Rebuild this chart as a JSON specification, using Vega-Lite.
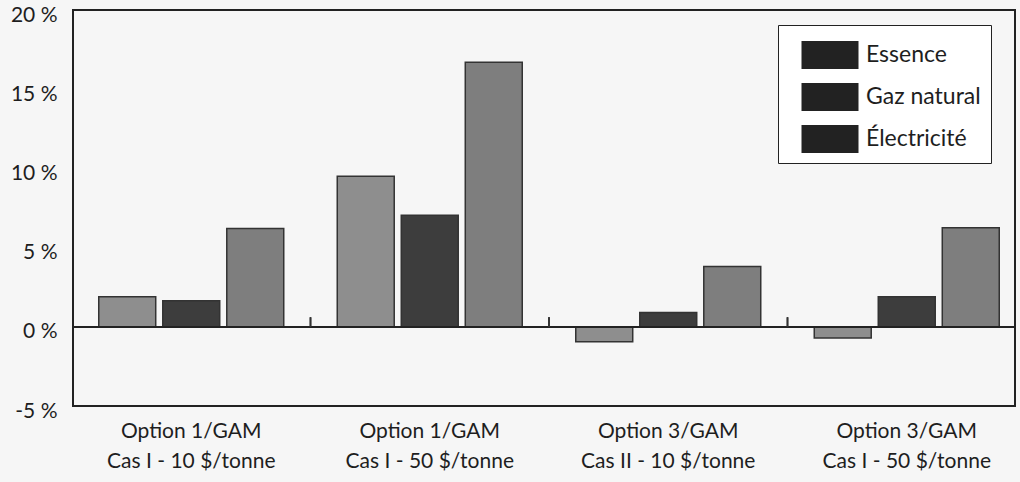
{
  "$schema": "https://vega.github.io/schema/vega-lite/v6.json",
  "width": 942,
  "height": 396,
  "autosize": {"type": "none"},
  "padding": {"left": 73, "top": 10, "right": 5, "bottom": 76},
  "background": "#f6f6f6",
  "config": {
    "font": "Lato",
    "view": {"stroke": "#222222", "strokeWidth": 2, "fill": "#f6f6f6"},
    "axis": {"labelFont": "Lato", "labelColor": "#1e1e1e", "labelFontSize": 21, "grid": false, "ticks": false, "domain": false, "title": null}
  },
  "data": {
    "values": [
      {"groupe": "Option 1/GAM|Cas I - 10 $/tonne", "energie": "Essence", "valeur": 1.9},
      {"groupe": "Option 1/GAM|Cas I - 10 $/tonne", "energie": "Gaz natural", "valeur": 1.65},
      {"groupe": "Option 1/GAM|Cas I - 10 $/tonne", "energie": "Électricité", "valeur": 6.2},
      {"groupe": "Option 1/GAM|Cas I - 50 $/tonne", "energie": "Essence", "valeur": 9.5},
      {"groupe": "Option 1/GAM|Cas I - 50 $/tonne", "energie": "Gaz natural", "valeur": 7.05},
      {"groupe": "Option 1/GAM|Cas I - 50 $/tonne", "energie": "Électricité", "valeur": 16.7},
      {"groupe": "Option 3/GAM|Cas II - 10 $/tonne", "energie": "Essence", "valeur": -0.95},
      {"groupe": "Option 3/GAM|Cas II - 10 $/tonne", "energie": "Gaz natural", "valeur": 0.9},
      {"groupe": "Option 3/GAM|Cas II - 10 $/tonne", "energie": "Électricité", "valeur": 3.8},
      {"groupe": "Option 3/GAM|Cas I - 50 $/tonne", "energie": "Essence", "valeur": -0.7},
      {"groupe": "Option 3/GAM|Cas I - 50 $/tonne", "energie": "Gaz natural", "valeur": 1.9},
      {"groupe": "Option 3/GAM|Cas I - 50 $/tonne", "energie": "Électricité", "valeur": 6.25}
    ]
  },
  "layer": [
    {
      "mark": {"type": "bar", "stroke": "#333333", "strokeWidth": 1.5},
      "encoding": {
        "x": {
          "field": "groupe",
          "type": "nominal",
          "sort": null,
          "scale": {"paddingInner": 0, "paddingOuter": 0, "range": [-1, 953]},
          "axis": {"labelAngle": 0, "labelPadding": 14, "labelLineHeight": 30, "labelBaseline": "top", "labelExpr": "split(datum.label, '|')"}
        },
        "xOffset": {
          "field": "energie",
          "type": "nominal",
          "sort": ["Essence", "Gaz natural", "Électricité"],
          "scale": {"paddingInner": 0.11, "paddingOuter": 0.418}
        },
        "y": {
          "field": "valeur",
          "type": "quantitative",
          "scale": {"domain": [-5, 20], "nice": false, "zero": false},
          "axis": {"values": [-5, 0, 5, 10, 15, 20], "labelPadding": 16, "labelOffset": 5, "labelExpr": "datum.value + ' %'"}
        },
        "fill": {
          "field": "energie",
          "type": "nominal",
          "sort": ["Essence", "Gaz natural", "Électricité"],
          "scale": {"range": ["#8e8e8e", "#3d3d3d", "#7e7e7e"]},
          "legend": null
        }
      }
    },
    {
      "mark": {"type": "bar", "strokeWidth": 0},
      "encoding": {
        "x": {"field": "groupe", "type": "nominal", "sort": null},
        "y": {"datum": 0},
        "y2": {"datum": 0},
        "color": {
          "field": "energie",
          "type": "nominal",
          "scale": {"domain": ["Essence", "Gaz natural", "Électricité"], "range": ["#222222", "#222222", "#222222"]},
          "legend": {
            "title": null,
            "orient": "none",
            "legendX": 705,
            "legendY": 15,
            "padding": 10,
            "fillColor": "#ffffff",
            "strokeColor": "#222222",
            "symbolType": "M-1.425,-0.7H1.425V0.7H-1.425Z",
            "symbolSize": 1600,
            "symbolOffset": 22,
            "symbolStrokeWidth": 0,
            "labelFont": "Lato",
            "labelFontSize": 23,
            "labelColor": "#1e1e1e",
            "labelOffset": 16,
            "rowPadding": 8
          }
        }
      }
    },
    {
      "mark": {"type": "rule", "color": "#222222", "strokeWidth": 1.5},
      "encoding": {"y": {"datum": 0}}
    },
    {
      "transform": [{"filter": "datum.groupe != 'Option 3/GAM|Cas I - 50 $/tonne'"}],
      "mark": {"type": "rule", "color": "#333333", "strokeWidth": 1.5},
      "encoding": {
        "x": {"field": "groupe", "type": "nominal", "sort": null, "bandPosition": 1},
        "y": {"datum": 0},
        "y2": {"datum": 0.6}
      }
    }
  ]
}
